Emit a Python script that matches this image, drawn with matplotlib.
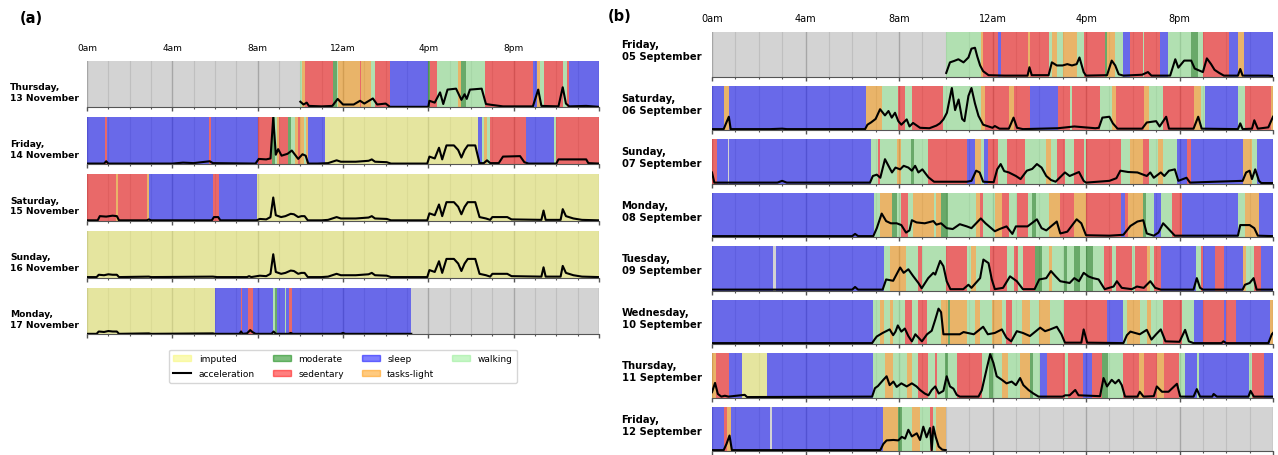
import matplotlib
matplotlib.use('Agg')
import matplotlib.pyplot as plt
import matplotlib.patches as mpatches
from matplotlib.lines import Line2D

# activity codes: S sleep, D sedentary, L tasks-light, W walking, M moderate, I imputed, N no data
hour_labels = ['0am', '4am', '8am', '12am', '4pm', '8pm', '']

left_days = ['Thursday,\n13 November', 'Friday,\n14 November', 'Saturday,\n15 November',
             'Sunday,\n16 November', 'Monday,\n17 November']
right_days = ['Friday,\n05 September', 'Saturday,\n06 September', 'Sunday,\n07 September',
              'Monday,\n08 September', 'Tuesday,\n09 September', 'Wednesday,\n10 September',
              'Thursday,\n11 September', 'Friday,\n12 September']

# ---- panel (a) ----
thu13_seg = [(0, 'N'), (10.0, 'W'), (10.1, 'L'), (10.2, 'D'), (11.55, 'M'), (11.7, 'W'), (11.77, 'L'),
             (12.8, 'D'), (12.85, 'L'), (13.3, 'W'), (13.5, 'D'), (14.2, 'S'), (16.0, 'M'), (16.1, 'D'),
             (16.4, 'W'), (17.4, 'L'), (17.55, 'M'), (17.75, 'W'), (18.66, 'D'), (20.9, 'S'), (21.1, 'L'),
             (21.25, 'W'), (21.4, 'D'), (22.3, 'W'), (22.5, 'D'), (22.6, 'S')]
thu13_acc = [(10.0, 12), (10.15, 6), (10.3, 10), (10.4, 3), (11.0, 2), (11.5, 3), (11.75, 18), (12.0, 6),
             (12.5, 6), (12.8, 14), (13.0, 8), (13.4, 19), (13.6, 6), (14.0, 8), (14.2, 1), (16.0, 1),
             (16.05, 14), (16.3, 10), (16.55, 32), (16.7, 7), (16.9, 38), (17.3, 40), (17.55, 16),
             (17.7, 28), (17.8, 18), (17.95, 38), (18.5, 40), (18.7, 7), (19.0, 5), (19.5, 2), (20.0, 2),
             (20.9, 2), (21.15, 38), (21.3, 3), (22.1, 2), (22.3, 43), (22.45, 8), (22.6, 2), (23.4, 3),
             (24, 1)]

fri14_seg = [(0, 'S'), (0.85, 'D'), (0.95, 'S'), (5.72, 'D'), (5.82, 'S'), (8.03, 'D'), (8.65, 'M'),
             (8.8, 'W'), (8.9, 'L'), (9.0, 'D'), (9.4, 'M'), (9.55, 'W'), (9.75, 'L'), (9.9, 'D'),
             (10.0, 'L'), (10.15, 'W'), (10.25, 'L'), (10.35, 'S'), (11.16, 'I'), (18.33, 'S'),
             (18.5, 'W'), (18.6, 'L'), (18.75, 'W'), (18.9, 'D'), (20.6, 'S'), (21.9, 'W'), (22.0, 'D')]
fri14_acc = [(0, 1), (0.8, 1), (0.9, 6), (1.0, 1), (4.0, 1), (4.5, 3), (5.0, 2), (5.75, 6), (5.9, 2),
             (7.9, 1), (8.05, 11), (8.4, 10), (8.6, 12), (8.73, 100), (8.85, 20), (8.96, 32), (9.12, 18),
             (9.4, 22), (9.6, 29), (9.9, 11), (10.1, 21), (10.25, 18), (10.37, 1), (10.8, 1),
             (18.4, 2), (18.6, 2), (18.75, 8), (18.9, 2), (19.3, 2), (19.5, 16), (20.3, 17), (20.5, 4),
             (20.7, 1), (22.0, 1), (22.1, 10), (23.4, 10), (23.5, 2), (24, 1)]

sat15_seg = [(0, 'D'), (1.35, 'L'), (1.45, 'D'), (2.8, 'L'), (2.9, 'S'), (5.9, 'D'), (6.2, 'S'),
             (7.95, 'I')]
sat15_acc = [(0, 1), (0.5, 1), (0.6, 10), (0.9, 9), (1.2, 11), (1.4, 10), (1.5, 1), (2.8, 1), (2.9, 3),
             (3.0, 1), (5.85, 1), (5.95, 8), (6.15, 8), (6.25, 1), (7.95, 1)]

sun16_seg = [(0, 'I')]
sun16_acc = []

mon17_seg = [(0, 'I'), (6.0, 'S'), (7.2, 'D'), (7.27, 'S'), (7.55, 'D'), (7.8, 'S'), (8.7, 'W'),
             (8.8, 'M'), (8.9, 'S'), (9.3, 'W'), (9.35, 'S'), (9.45, 'D'), (9.6, 'S'), (15.2, 'N')]
mon17_acc = [(6.0, 1), (7.15, 1), (7.22, 6), (7.3, 1), (7.5, 2), (7.65, 9), (7.75, 5), (7.9, 1),
             (8.65, 1), (8.75, 6), (8.85, 1), (9.45, 1), (9.55, 3), (9.65, 1), (11.9, 1), (12.0, 3),
             (12.1, 1), (15.2, 1)]

# acceleration shown in the imputed stretches
imputed_acc = [(0, 1), (0.45, 1), (0.55, 6), (0.8, 5), (1.0, 7), (1.2, 6), (1.4, 6), (1.5, 1), (2.9, 2),
               (3.0, 1), (5.9, 2), (6.1, 1), (7.5, 1), (7.6, 3), (7.7, 1), (8.1, 4), (8.4, 3), (8.6, 8),
               (8.73, 50), (8.85, 12), (9.1, 8), (9.3, 10), (9.55, 15), (9.7, 14), (9.9, 8), (10.05, 10),
               (10.2, 10), (10.35, 1), (11.0, 1), (11.3, 2), (11.7, 8), (11.9, 5), (12.6, 5), (13.2, 7),
               (13.35, 10), (13.5, 5), (14.05, 4), (14.25, 1), (15.95, 1), (16.05, 16), (16.3, 12),
               (16.5, 35), (16.65, 10), (16.85, 40), (17.2, 40), (17.4, 30), (17.55, 14), (17.7, 30),
               (17.85, 40), (18.2, 40), (18.4, 8), (18.7, 5), (18.9, 2), (19.0, 8), (19.7, 8), (19.9, 3),
               (21.3, 2), (21.4, 22), (21.5, 2), (22.2, 2), (22.3, 25), (22.45, 10), (22.8, 5), (23.2, 2),
               (24, 1)]

# ---- panel (b) ----
fri05_seg = [(0, 'N'), (10.0, 'W'), (11.5, 'L'), (11.6, 'D'), (12.25, 'S'), (12.35, 'D'), (13.5, 'L'),
             (13.6, 'D'), (14.4, 'W'), (14.55, 'L'), (14.75, 'W'), (15.0, 'L'), (15.6, 'W'), (15.9, 'D'),
             (16.8, 'M'), (16.9, 'L'), (17.25, 'W'), (17.6, 'S'), (17.9, 'D'), (18.45, 'W'), (18.5, 'D'),
             (19.15, 'S'), (19.5, 'W'), (20.5, 'M'), (20.8, 'W'), (21.0, 'D'), (22.1, 'S'), (22.5, 'L'),
             (22.75, 'S')]
fri05_acc = [(10.02, 8), (10.18, 32), (10.35, 35), (10.54, 39), (10.76, 32), (10.97, 43), (11.1, 63),
             (11.25, 65), (11.35, 45), (11.47, 25), (11.6, 12), (11.83, 3), (12.5, 2), (13.5, 2),
             (13.58, 21), (13.68, 3), (14.4, 3), (14.54, 32), (14.75, 25), (15.0, 25), (15.2, 28),
             (15.4, 25), (15.6, 28), (15.72, 43), (15.9, 10), (16.0, 2), (16.9, 3), (17.1, 36),
             (17.25, 25), (17.4, 5), (17.6, 2), (18.0, 3), (18.4, 4), (18.65, 10), (18.8, 2), (19.6, 2),
             (19.82, 39), (19.95, 20), (20.2, 36), (20.5, 36), (20.65, 18), (21.0, 10), (21.17, 41),
             (21.35, 28), (21.5, 15), (21.7, 8), (21.9, 2), (22.5, 2), (22.6, 17), (22.7, 2), (23.8, 2),
             (24, 1)]

sat06_seg = [(0, 'S'), (0.51, 'L'), (0.74, 'S'), (6.58, 'L'), (7.26, 'W'), (7.97, 'D'), (8.26, 'W'),
             (8.54, 'D'), (9.9, 'W'), (11.5, 'L'), (11.7, 'D'), (12.7, 'L'), (12.9, 'D'), (13.6, 'S'),
             (14.8, 'D'), (15.3, 'W'), (15.4, 'D'), (16.6, 'W'), (17.1, 'L'), (17.3, 'D'), (18.5, 'L'),
             (18.7, 'W'), (19.3, 'D'), (20.6, 'L'), (20.9, 'W'), (21.1, 'S'), (22.5, 'W'), (22.8, 'D'),
             (23.9, 'L')]
sat06_acc = [(0, 2), (0.5, 2), (0.6, 15), (0.72, 30), (0.8, 2), (2.5, 2), (3.0, 3), (3.2, 2), (6.55, 2),
             (6.65, 12), (6.8, 17), (7.0, 25), (7.19, 47), (7.4, 33), (7.55, 43), (7.69, 28), (7.83, 39),
             (7.97, 20), (8.1, 12), (8.33, 24), (8.45, 8), (8.6, 16), (8.9, 5), (9.3, 4), (9.6, 10),
             (9.75, 15), (9.9, 24), (10.05, 39), (10.26, 95), (10.4, 45), (10.55, 69), (10.7, 25),
             (10.8, 20), (10.97, 77), (11.1, 95), (11.25, 60), (11.4, 32), (11.6, 12), (12.0, 5),
             (12.1, 9), (12.3, 3), (12.7, 3), (12.9, 28), (13.05, 5), (13.3, 2), (14.8, 4), (15.5, 8),
             (16.4, 4), (16.55, 5), (16.7, 28), (17.0, 30), (17.15, 15), (17.35, 3), (18.4, 3),
             (18.6, 17), (19.0, 20), (19.15, 8), (19.43, 30), (19.55, 3), (20.6, 3), (20.8, 30),
             (20.95, 3), (22.5, 2), (22.6, 15), (22.7, 2), (23.1, 3), (23.2, 22), (23.35, 3), (23.8, 6),
             (24, 30)]

sun07_seg = [(0, 'D'), (0.2, 'S'), (0.68, 'N'), (0.72, 'S'), (6.8, 'W'), (7.1, 'D'), (7.18, 'W'),
             (7.9, 'L'), (8.1, 'W'), (8.5, 'M'), (8.65, 'W'), (9.25, 'D'), (10.9, 'S'), (11.25, 'L'),
             (11.5, 'W'), (11.65, 'S'), (11.8, 'D'), (12.25, 'W'), (12.6, 'D'), (13.4, 'W'), (14.3, 'L'),
             (14.5, 'W'), (14.75, 'D'), (15.1, 'W'), (15.5, 'D'), (15.9, 'W'), (16.0, 'D'), (17.5, 'W'),
             (17.9, 'L'), (18.45, 'D'), (18.7, 'W'), (19.1, 'L'), (19.3, 'W'), (19.9, 'S'), (20.3, 'D'),
             (20.5, 'S'), (22.7, 'L'), (23.1, 'W'), (23.3, 'S')]
sun07_acc = [(0, 25), (0.1, 2), (2.8, 2), (3.0, 6), (3.2, 2), (6.76, 2), (6.88, 17), (7.05, 20),
             (7.2, 13), (7.4, 55), (7.55, 40), (7.7, 25), (7.85, 36), (8.05, 32), (8.2, 40), (8.4, 36),
             (8.55, 29), (8.69, 40), (8.83, 25), (9.0, 32), (9.1, 25), (9.26, 14), (9.5, 4), (10.9, 4),
             (11.1, 6), (11.3, 29), (11.45, 25), (11.6, 4), (12.05, 3), (12.2, 32), (12.35, 44),
             (12.5, 28), (12.7, 25), (13.0, 17), (13.2, 10), (13.47, 29), (13.7, 33), (13.9, 44),
             (14.1, 36), (14.3, 17), (14.5, 8), (14.7, 4), (15.1, 25), (15.3, 17), (15.7, 26), (15.9, 6),
             (16.0, 2), (17.0, 6), (17.3, 12), (17.47, 29), (17.8, 26), (18.2, 25), (18.6, 17),
             (18.75, 25), (18.9, 13), (19.2, 25), (19.35, 17), (19.55, 29), (19.8, 32), (19.95, 6),
             (20.3, 13), (20.45, 2), (21.5, 4), (22.7, 6), (22.85, 25), (23.0, 29), (23.1, 10),
             (23.24, 32), (23.4, 6), (23.5, 1), (24, 1)]

mon08_seg = [(0, 'S'), (6.93, 'W'), (7.2, 'L'), (7.7, 'M'), (7.9, 'W'), (8.1, 'D'), (8.4, 'W'),
             (8.6, 'L'), (9.5, 'W'), (9.6, 'L'), (9.8, 'M'), (10.1, 'W'), (11.3, 'L'), (11.45, 'D'),
             (11.6, 'W'), (12.1, 'L'), (12.4, 'D'), (12.7, 'W'), (13.05, 'D'), (13.5, 'W'), (13.7, 'M'),
             (13.85, 'W'), (14.4, 'L'), (14.9, 'D'), (15.5, 'L'), (16.0, 'D'), (17.5, 'S'), (17.65, 'D'),
             (17.8, 'L'), (18.45, 'M'), (18.55, 'W'), (18.9, 'S'), (19.2, 'W'), (19.7, 'D'), (20.1, 'S'),
             (22.5, 'W'), (22.8, 'L'), (23.4, 'S')]
mon08_acc = [(0, 2), (6.0, 2), (6.12, 7), (6.25, 2), (6.9, 2), (7.05, 20), (7.26, 53), (7.45, 36),
             (7.65, 31), (7.9, 31), (8.1, 27), (8.3, 10), (8.45, 15), (8.55, 38), (8.75, 33), (9.1, 31),
             (9.47, 36), (9.6, 28), (9.8, 31), (10.04, 20), (10.3, 18), (10.6, 29), (10.9, 24),
             (11.1, 20), (11.5, 42), (11.7, 31), (12.1, 13), (12.3, 18), (12.6, 24), (12.85, 7),
             (13.0, 24), (13.5, 24), (13.9, 40), (14.1, 20), (14.3, 15), (14.75, 35), (14.9, 8),
             (15.2, 12), (15.6, 40), (15.8, 31), (16.0, 4), (17.0, 3), (17.6, 5), (17.9, 25), (18.2, 35),
             (18.45, 38), (18.6, 8), (18.9, 3), (19.1, 10), (19.3, 31), (19.5, 20), (19.8, 3), (22.5, 3),
             (22.6, 27), (23.0, 27), (23.2, 20), (23.35, 3), (24, 2)]

tue09_seg = [(0, 'S'), (2.62, 'N'), (2.72, 'S'), (7.36, 'W'), (7.6, 'L'), (8.3, 'W'), (8.8, 'D'),
             (9.0, 'W'), (10.0, 'D'), (10.9, 'W'), (11.1, 'L'), (11.3, 'W'), (11.9, 'D'), (12.6, 'W'),
             (12.9, 'D'), (13.1, 'W'), (13.3, 'D'), (13.8, 'M'), (14.1, 'W'), (14.4, 'L'), (14.55, 'W'),
             (15.05, 'M'), (15.2, 'W'), (15.5, 'M'), (15.75, 'W'), (16.0, 'M'), (16.3, 'W'), (16.75, 'D'),
             (17.1, 'W'), (17.3, 'D'), (17.96, 'W'), (18.1, 'D'), (18.6, 'L'), (18.75, 'W'), (18.9, 'D'),
             (19.2, 'S'), (20.7, 'W'), (20.9, 'D'), (21.0, 'S'), (21.5, 'D'), (21.9, 'S'), (22.7, 'L'),
             (22.85, 'W'), (23.2, 'D'), (23.5, 'S')]
tue09_acc = [(0, 2), (6.0, 2), (6.12, 8), (6.25, 2), (7.3, 2), (7.45, 25), (7.75, 22), (8.05, 52),
             (8.2, 40), (8.4, 48), (8.6, 33), (8.83, 17), (8.97, 5), (9.25, 28), (9.47, 40), (9.55, 36),
             (9.76, 67), (9.9, 55), (10.04, 21), (10.2, 3), (10.75, 3), (10.97, 13), (11.1, 6),
             (11.47, 28), (11.61, 70), (11.83, 62), (11.97, 25), (12.1, 3), (12.45, 6), (12.75, 32),
             (13.04, 21), (13.3, 3), (13.8, 3), (14.0, 25), (14.3, 28), (14.5, 44), (14.7, 32),
             (14.9, 21), (15.3, 17), (15.5, 28), (15.7, 21), (15.9, 40), (16.1, 32), (16.3, 28),
             (16.54, 25), (16.68, 13), (16.8, 3), (17.18, 9), (17.32, 21), (17.53, 6), (17.96, 3),
             (18.18, 9), (18.47, 6), (18.75, 21), (18.96, 6), (19.2, 2), (20.6, 2), (20.74, 28),
             (20.88, 6), (21.0, 2), (22.7, 2), (22.8, 13), (23.0, 17), (23.17, 28), (23.3, 2), (24, 2)]

wed10_seg = [(0, 'S'), (6.9, 'W'), (7.2, 'L'), (7.35, 'W'), (7.6, 'L'), (7.75, 'W'), (8.26, 'D'),
             (8.55, 'W'), (8.83, 'D'), (9.19, 'W'), (9.8, 'L'), (10.1, 'M'), (10.2, 'L'), (10.9, 'W'),
             (11.25, 'L'), (11.47, 'W'), (11.97, 'L'), (12.4, 'W'), (12.58, 'D'), (12.83, 'W'),
             (13.25, 'L'), (13.6, 'W'), (13.97, 'L'), (14.47, 'W'), (15.04, 'D'), (16.89, 'S'),
             (17.6, 'W'), (17.75, 'L'), (18.3, 'W'), (18.6, 'L'), (18.8, 'W'), (19.3, 'D'), (20.1, 'W'),
             (20.6, 'S'), (21.0, 'D'), (21.9, 'S'), (22.0, 'D'), (22.4, 'S'), (23.88, 'L')]
wed10_acc = [(0, 2), (6.85, 2), (6.95, 10), (7.05, 17), (7.3, 25), (7.6, 33), (7.75, 20), (7.85, 28),
             (7.95, 42), (8.1, 28), (8.25, 35), (8.4, 18), (8.55, 6), (8.7, 22), (8.98, 6), (9.2, 22),
             (9.4, 30), (9.55, 55), (9.69, 80), (9.8, 72), (9.9, 22), (10.2, 22), (10.6, 22), (10.76, 27),
             (11.2, 22), (11.6, 39), (11.8, 22), (12.1, 25), (12.4, 33), (12.6, 14), (12.8, 6),
             (13.04, 29), (13.3, 25), (13.6, 18), (14.04, 37), (14.25, 29), (14.47, 33), (14.75, 39),
             (14.95, 22), (15.1, 3), (15.8, 3), (15.9, 33), (16.05, 3), (17.6, 2), (17.75, 20),
             (17.9, 28), (18.3, 22), (18.6, 32), (18.8, 10), (19.0, 22), (19.2, 33), (19.4, 6), (20.0, 5),
             (20.24, 32), (20.4, 6), (20.6, 2), (21.8, 2), (21.88, 6), (22.0, 2), (23.8, 2), (23.95, 22),
             (24, 25)]

thu11_seg = [(0, 'L'), (0.17, 'D'), (0.73, 'S'), (1.27, 'I'), (2.34, 'S'), (6.9, 'W'), (7.4, 'L'),
             (7.76, 'W'), (8.33, 'L'), (8.55, 'W'), (8.83, 'D'), (9.26, 'W'), (9.55, 'D'), (9.63, 'W'),
             (9.97, 'M'), (10.11, 'W'), (10.47, 'D'), (11.54, 'W'), (11.83, 'M'), (12.04, 'W'),
             (12.4, 'L'), (12.68, 'W'), (13.18, 'L'), (13.61, 'M'), (13.75, 'W'), (14.04, 'S'),
             (14.33, 'D'), (15.11, 'W'), (15.25, 'D'), (15.89, 'S'), (16.25, 'D'), (16.68, 'M'),
             (16.96, 'W'), (17.6, 'D'), (18.25, 'L'), (18.46, 'D'), (19.03, 'L'), (19.32, 'D'),
             (19.96, 'W'), (20.24, 'S'), (20.74, 'W'), (20.82, 'S'), (22.96, 'W'), (23.1, 'D'),
             (23.6, 'S')]
thu11_acc = [(0, 12), (0.13, 33), (0.25, 8), (0.4, 2), (0.55, 4), (0.7, 2), (6.85, 2), (6.97, 21),
             (7.1, 26), (7.33, 40), (7.47, 48), (7.6, 28), (7.76, 36), (7.9, 24), (8.1, 32), (8.33, 25),
             (8.55, 32), (8.75, 25), (8.9, 17), (9.1, 9), (9.26, 5), (9.4, 17), (9.55, 25), (9.7, 9),
             (9.9, 15), (10.04, 48), (10.18, 25), (10.33, 20), (10.47, 6), (10.6, 2), (11.4, 2),
             (11.54, 16), (11.76, 67), (11.9, 98), (12.04, 78), (12.18, 48), (12.4, 40), (12.6, 32),
             (12.82, 36), (13.0, 28), (13.18, 44), (13.32, 28), (13.54, 17), (13.75, 9), (13.97, 2),
             (15.0, 2), (15.11, 5), (15.3, 5), (15.54, 17), (15.68, 5), (16.6, 3), (16.75, 44),
             (16.9, 25), (17.1, 40), (17.25, 32), (17.4, 40), (17.53, 28), (17.67, 2), (18.2, 2),
             (18.3, 13), (18.46, 2), (18.9, 3), (19.03, 25), (19.25, 13), (19.53, 13), (19.89, 31),
             (20.03, 2), (20.6, 2), (20.74, 19), (20.88, 2), (21.4, 2), (21.46, 8), (21.6, 2), (22.95, 2),
             (23.04, 15), (23.18, 2), (24, 2)]

fri12_seg = [(0, 'S'), (0.51, 'D'), (0.63, 'L'), (0.8, 'S'), (2.48, 'N'), (2.55, 'S'), (7.33, 'L'),
             (7.97, 'M'), (8.12, 'W'), (8.55, 'L'), (8.9, 'W'), (9.33, 'D'), (9.47, 'W'), (9.57, 'L'),
             (10.0, 'N')]
fri12_acc = [(0, 2), (0.5, 2), (0.62, 16), (0.75, 35), (0.85, 2), (7.2, 2), (7.33, 16), (7.47, 24),
             (7.76, 25), (7.97, 24), (8.12, 32), (8.26, 28), (8.4, 48), (8.55, 33), (8.76, 40), (8.9, 25),
             (9.04, 55), (9.18, 31), (9.33, 52), (9.4, 2), (9.47, 55), (9.57, 32), (9.7, 10), (9.85, 3),
             (10.0, 2)]

left_segments = [thu13_seg, fri14_seg, sat15_seg, sun16_seg, mon17_seg]
left_acc = [thu13_acc, fri14_acc, sat15_acc, sun16_acc, mon17_acc]
right_segments = [fri05_seg, sat06_seg, sun07_seg, mon08_seg, tue09_seg, wed10_seg, thu11_seg, fri12_seg]
right_acc = [fri05_acc, sat06_acc, sun07_acc, mon08_acc, tue09_acc, wed10_acc, thu11_acc, fri12_acc]

# styles
colors = {'S': 'blue', 'D': 'red', 'L': '#ff9600', 'W': 'lightgreen', 'M': 'green', 'I': '#f7f76d'}
names = {'I': 'imputed', 'M': 'moderate', 'D': 'sedentary', 'S': 'sleep', 'L': 'tasks-light',
         'W': 'walking'}

W, H = 1278, 456
fig = plt.figure(figsize=(W / 100, H / 100), dpi=100)


def with_imputed(segs, acc):
    ends = [s for s, _ in segs[1:]] + [24]
    spans = [(s, e) for (s, c), e in zip(segs, ends) if c == 'I']
    extra = [p for p in imputed_acc if any(a <= p[0] <= b for a, b in spans)]
    return sorted(list(acc) + extra)


def draw_day(ax, segs, acc, first, tick_size):
    ax.set_facecolor('lightgray')
    ax.set_axisbelow(True)
    ends = [s for s, _ in segs[1:]] + [24]
    for (start, code), end in zip(segs, ends):
        if code == 'N':
            continue
        ax.axvspan(start, end, facecolor=colors[code], alpha=0.5, lw=0)
    if acc:
        ax.plot([p[0] for p in acc], [p[1] for p in acc], color='black', lw=1.5)
    ax.set_xlim(0, 24)
    ax.set_ylim(0, 100)
    ax.set_yticks([])
    ax.set_xticks(range(0, 25, 4))
    ax.set_xticks(range(0, 25), minor=True)
    ax.set_xticklabels(hour_labels)
    ax.grid(axis='x', which='major', color='#a6a6a6', lw=1.0)
    ax.grid(axis='x', which='minor', color='#bfbfbf', lw=0.8)
    for s in ['top', 'left', 'right']:
        ax.spines[s].set_visible(False)
    ax.spines['bottom'].set_color('#555555')
    ax.tick_params(axis='x', which='major', length=3, width=1, color='#555555', pad=3.5,
                   labelsize=tick_size, labelbottom=False, labeltop=first)
    ax.tick_params(axis='x', which='minor', length=1.5, width=0.8, color='#555555')


def draw_panel(x0, width, top0, pitch, height, days, segs_list, acc_list, label_x, label_dy,
               label_size, tick_size):
    for i, (day, segs, acc) in enumerate(zip(days, segs_list, acc_list)):
        top = top0 + i * pitch
        ax = fig.add_axes([x0 / W, 1 - (top + height) / H, width / W, height / H])
        draw_day(ax, segs, with_imputed(segs, acc), i == 0, tick_size)
        yc = top + height / 2 + label_dy
        fig.text(label_x / W, 1 - yc / H, day, ha='left', va='center', fontsize=label_size,
                 fontweight='bold', linespacing=1.25)


draw_panel(87, 512, 61.7, 56.75, 46.6, left_days, left_segments, left_acc, 10, 8, 6.6, 6.5)
draw_panel(712, 561, 33.3, 53.5, 44.2, right_days, right_segments, right_acc, 621.5, -4, 7.2, 7.0)

fig.text(31.5 / W, 1 - 18.3 / H, '(a)', ha='center', va='center', fontsize=10.5, fontweight='bold')
fig.text(620 / W, 1 - 16.7 / H, '(b)', ha='center', va='center', fontsize=10.5, fontweight='bold')

handles = [mpatches.Patch(color=colors['I'], alpha=0.5, label=names['I']),
           Line2D([], [], color='black', lw=1.5, label='acceleration')]
for code in ['M', 'D', 'S', 'L', 'W']:
    handles.append(mpatches.Patch(color=colors[code], alpha=0.5, label=names[code]))
fig.legend(handles=handles, loc='upper center', bbox_to_anchor=(343 / W, 1 - 350.5 / H), ncol=4,
           fontsize=6.5, borderaxespad=0, labelspacing=0.7, borderpad=0.5)

fig.savefig('out.png', dpi=100)
